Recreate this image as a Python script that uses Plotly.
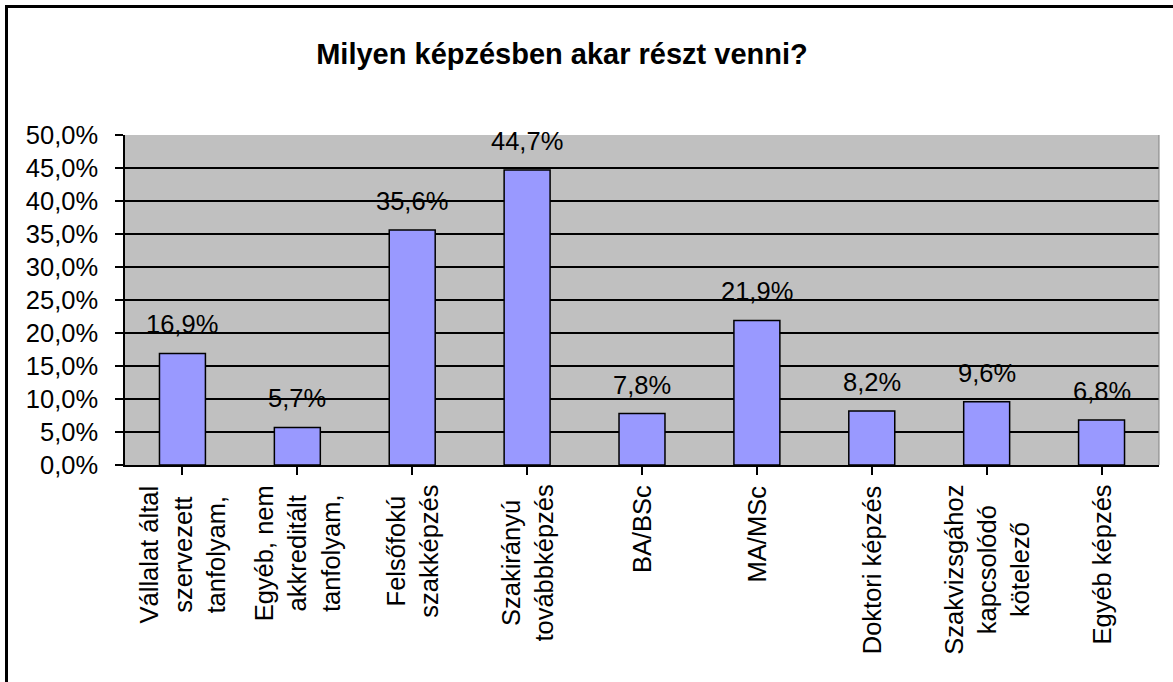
import plotly.graph_objects as go

categories = [
    "Vállalat által<br>szervezett<br>tanfolyam,",
    "Egyéb, nem<br>akkreditált<br>tanfolyam,",
    "Felsőfokú<br>szakképzés",
    "Szakirányú<br>továbbképzés",
    "BA/BSc",
    "MA/MSc",
    "Doktori képzés",
    "Szakvizsgához<br>kapcsolódó<br>kötelező",
    "Egyéb képzés",
]
values = [0.169, 0.057, 0.356, 0.447, 0.078, 0.219, 0.082, 0.096, 0.068]
title_text = "Milyen képzésben akar részt venni?"

FONT = "Liberation Sans, Arial, sans-serif"
W, H = 1173, 682
L, R, T, B = 125, 14, 135, 217
pw, ph = W - L - R, H - T - B
FS = 25.5

fig = go.Figure()
fig.add_trace(go.Bar(
    x=list(range(len(categories))), y=values,
    marker=dict(color="#9999FF", line=dict(color="black", width=1.5)),
    hoverinfo="skip",
))

ann = []
for i, v in enumerate(values):
    ann.append(dict(x=i, y=v, xref="x", yref="y", text=f"{v*100:.1f}%".replace(".", ","),
                    showarrow=False, yanchor="bottom", xanchor="center", yshift=13,
                    font=dict(family=FONT, size=FS, color="black")))
for i, c in enumerate(categories):
    ann.append(dict(x=i, y=0, xref="x", yref="paper", text=c, textangle=-90,
                    showarrow=False, yanchor="top", xanchor="center", yshift=-18,
                    align="center", font=dict(family=FONT, size=FS, color="black")))

def px_x(p):
    return (p - L) / pw

def px_y(p):
    return (H - B - p) / ph

shapes = [
    dict(type="rect", xref="paper", yref="paper", x0=px_x(6.5), y0=px_y(720), x1=px_x(1220), y1=px_y(6.5),
         line=dict(color="black", width=3), fillcolor="rgba(0,0,0,0)", layer="above"),
    dict(type="line", xref="paper", yref="paper", x0=1, x1=1, y0=0, y1=1,
         line=dict(color="#808080", width=1)),
]

fig.update_layout(
    width=W, height=H,
    margin=dict(l=L, r=R, t=T, b=B, pad=0),
    paper_bgcolor="white", plot_bgcolor="#C0C0C0",
    separators=", ",
    showlegend=False,
    bargap=0.6,
    title=dict(text="<b>" + title_text + "</b>", x=562 / W, xref="container", xanchor="center",
               y=1 - 54 / H, yref="container", yanchor="middle",
               font=dict(family=FONT, size=29, color="black")),
    annotations=ann,
    shapes=shapes,
    xaxis=dict(range=[-0.5, len(categories) - 0.5], tickmode="array",
               tickvals=list(range(len(categories))), showticklabels=False,
               ticks="outside", tickson="boundaries", ticklen=8, tickwidth=1.5, tickcolor="black",
               showline=True, linecolor="black", linewidth=1.5, showgrid=False, zeroline=False,
               fixedrange=True),
    yaxis=dict(range=[0, 0.5], dtick=0.05, tick0=0, tickformat=".1%",
               ticks="outside", ticklen=8, tickwidth=1.5, tickcolor="black",
               ticklabelstandoff=12,
               showline=True, linecolor="black", linewidth=1.5,
               showgrid=True, gridcolor="black", gridwidth=1.8, zeroline=False,
               tickfont=dict(family=FONT, size=FS, color="black"), fixedrange=True),
)

fig.write_html("out.html", config={"displayModeBar": False},
               post_script="document.body.style.margin='0';")
